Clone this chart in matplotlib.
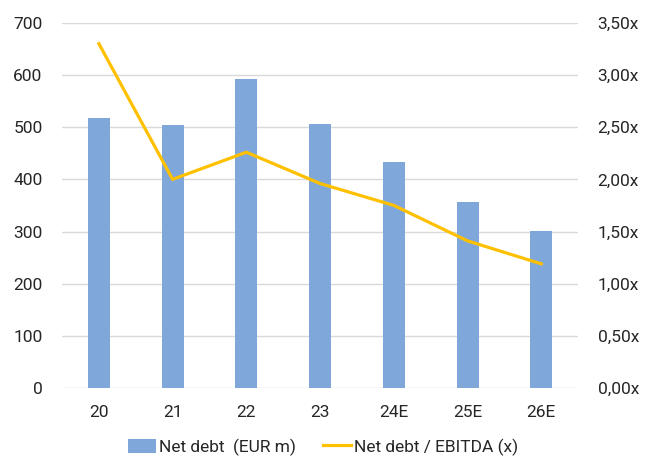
import matplotlib
matplotlib.use("Agg")
import matplotlib.pyplot as plt
from matplotlib.ticker import FuncFormatter

plt.rcParams['font.family'] = ['Roboto', 'DejaVu Sans']

years = ["20", "21", "22", "23", "24E", "25E", "26E"]
net_debt = [518, 504, 593, 506, 434, 356, 301]
leverage = [3.30, 2.00, 2.26, 1.96, 1.75, 1.41, 1.19]

bar_color = "#7FA7DA"
line_color = "#FFC000"
grid_color = "#D9D9D9"
text_color = "#262626"

fig = plt.figure(figsize=(6.46, 4.57), dpi=100)
ax = fig.add_axes([0.096, 0.151, 0.799, 0.799])
ax2 = ax.twinx()

x = range(len(years))
bars = ax.bar(x, net_debt, width=0.30, color=bar_color, zorder=2,
              label="Net debt  (EUR m)")
line, = ax2.plot(x, leverage, color=line_color, lw=2.3, zorder=3,
                 label="Net debt / EBITDA (x)", solid_joinstyle="miter")

ax.set_xlim(-0.5, len(years) - 0.5)
ax.set_ylim(0, 700)
ax.set_yticks(range(0, 701, 100))
ax2.set_ylim(0, 3.5)
ax2.set_yticks([i * 0.5 for i in range(8)])
ax2.yaxis.set_major_formatter(FuncFormatter(lambda v, p: f"{v:.2f}".replace(".", ",") + "x"))

ax.set_xticks(list(x))
ax.set_xticklabels(years)

ax.yaxis.grid(True, color=grid_color, lw=1.0, zorder=0)
ax.set_axisbelow(True)

for a in (ax, ax2):
    for s in a.spines.values():
        s.set_visible(False)
    a.tick_params(length=0, labelsize=12.5, colors=text_color)
ax.tick_params(axis='y', pad=14)
ax2.tick_params(axis='y', pad=14)
ax.tick_params(axis='x', pad=12)

fig.legend([bars, line], ["Net debt  (EUR m)", "Net debt / EBITDA (x)"],
           loc="center", bbox_to_anchor=(0.5, 0.022), ncol=2, frameon=False,
           fontsize=12.5, handlelength=1.6, handleheight=0.9, columnspacing=1.6,
           handletextpad=0.15, labelcolor=text_color)

fig.savefig("out.png", dpi=100)
